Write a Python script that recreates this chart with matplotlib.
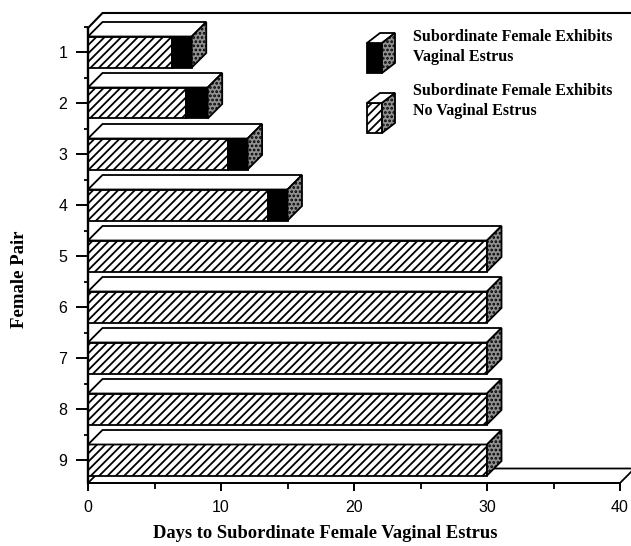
import matplotlib
matplotlib.use("Agg")
import matplotlib.pyplot as plt
from matplotlib.patches import Polygon
from matplotlib.ticker import MultipleLocator

# data
pairs = [1, 2, 3, 4, 5, 6, 7, 8, 9]
no_estrus_days = [6.3, 7.4, 10.5, 13.5, 30, 30, 30, 30, 30]
estrus_days = [1.5, 1.6, 1.5, 1.5, 0, 0, 0, 0, 0]
x_ticks = [0, 10, 20, 30, 40]
legend_labels = ["Subordinate Female Exhibits\nVaginal Estrus",
                 "Subordinate Female Exhibits\nNo Vaginal Estrus"]

W, H = 631, 546
PX_DAY = 13.3      # pixels per day
PX_CAT = 51.0      # pixels per pair

plt.rcParams["hatch.linewidth"] = 1.3

fig = plt.figure(figsize=(W / 100, H / 100), dpi=100)
ax = fig.add_axes([88 / W, 1 - 483 / H, 532 / W, 470 / H])
y_bottom = 1 + (483 - 52) / PX_CAT
y_top = 1 + (13 - 52) / PX_CAT
ax.set_xlim(0, 40)
ax.set_ylim(y_bottom, y_top)

# 3d depth offsets in data units
dx = 14.5 / PX_DAY
dy = 14.5 / PX_CAT
bar_h = 31 / PX_CAT


def px(xp, yp):
    return (xp - 88) / PX_DAY, 1 + (yp - 52) / PX_CAT


def poly(pts, z=3, **kw):
    p = Polygon(pts, closed=True, clip_on=False, zorder=z,
                edgecolor="black", linewidth=1.3, **kw)
    ax.add_patch(p)


def box(x0, segs, yc, h, ddx, ddy, z=3):
    top, bot = yc - h / 2, yc + h / 2
    x = x0
    for length, style in segs:
        if length <= 0:
            continue
        if style == "black":
            poly([(x, top), (x + length, top), (x + length, bot), (x, bot)],
                 z=z, facecolor="black")
        else:
            poly([(x, top), (x + length, top), (x + length, bot), (x, bot)],
                 z=z, facecolor="white", hatch="////")
        x += length
    # top face
    poly([(x0, top), (x, top), (x + ddx, top - ddy), (x0 + ddx, top - ddy)],
         z=z, facecolor="white")
    # side face, stippled
    poly([(x, top), (x, bot), (x + ddx, bot - ddy), (x + ddx, top - ddy)],
         z=z, facecolor="#909090", hatch="....")


# floor
poly([(0, y_bottom), (40, y_bottom), (40 + dx, y_bottom - dy),
      (dx, y_bottom - dy)], z=1, facecolor="white")

# back wall top edge
y_wall = px(0, 28)[1]
ax.plot([0, dx, (W - 88) / PX_DAY], [y_wall, y_top, y_top],
        color="black", lw=1.5, clip_on=False, zorder=2)

for p, a, b in zip(pairs, no_estrus_days, estrus_days):
    box(0, [(a, "hatch"), (b, "black")], p, bar_h, dx, dy)

# axes styling
for s in ["top", "right"]:
    ax.spines[s].set_visible(False)
ax.spines["left"].set_bounds(y_bottom, y_wall)
ax.spines["left"].set_linewidth(1.7)
ax.spines["bottom"].set_linewidth(1.4)
ax.spines["left"].set_zorder(4)

ax.set_xticks(x_ticks)
ax.xaxis.set_minor_locator(MultipleLocator(5))
ax.set_yticks(pairs)
ax.set_yticklabels([str(p) for p in pairs])
ax.set_yticks([p + 0.5 for p in pairs[:-1]] + [0.5], minor=True)
ax.tick_params(axis="x", which="major", length=6, width=1.4, pad=6,
               labelsize=11.5)
ax.tick_params(axis="x", which="minor", length=4, width=1.3)
ax.tick_params(axis="y", which="major", length=9, width=1.4, pad=6,
               labelsize=11.5)
ax.tick_params(axis="y", which="minor", length=3, width=1.3)
for lab in ax.get_xticklabels() + ax.get_yticklabels():
    lab.set_family("Liberation Sans")

# legend: small 3d boxes with text
for i, (label, style) in enumerate(zip(legend_labels, ["black", "hatch"])):
    yc_px = 58 + i * 60
    x0, yc = px(367, yc_px)
    w = 15 / PX_DAY
    box(x0, [(w, style)], yc, 30 / PX_CAT, 13 / PX_DAY, 10 / PX_CAT, z=5)
    tx, ty = px(413, 47 + i * 54)
    ax.text(tx, ty, label, ha="left", va="center", fontsize=11.5,
            family="Liberation Serif", fontweight="bold", linespacing=1.35)

fig.text(325 / W, 1 - 533 / H, "Days to Subordinate Female Vaginal Estrus",
         ha="center", va="center", fontsize=13.3, family="Liberation Serif",
         fontweight="bold")
fig.text(20 / W, 1 - 279 / H, "Female Pair", ha="center", va="center",
         rotation=90, fontsize=13.5, family="Liberation Serif",
         fontweight="bold")

fig.savefig("out.png", dpi=100, facecolor="white")
